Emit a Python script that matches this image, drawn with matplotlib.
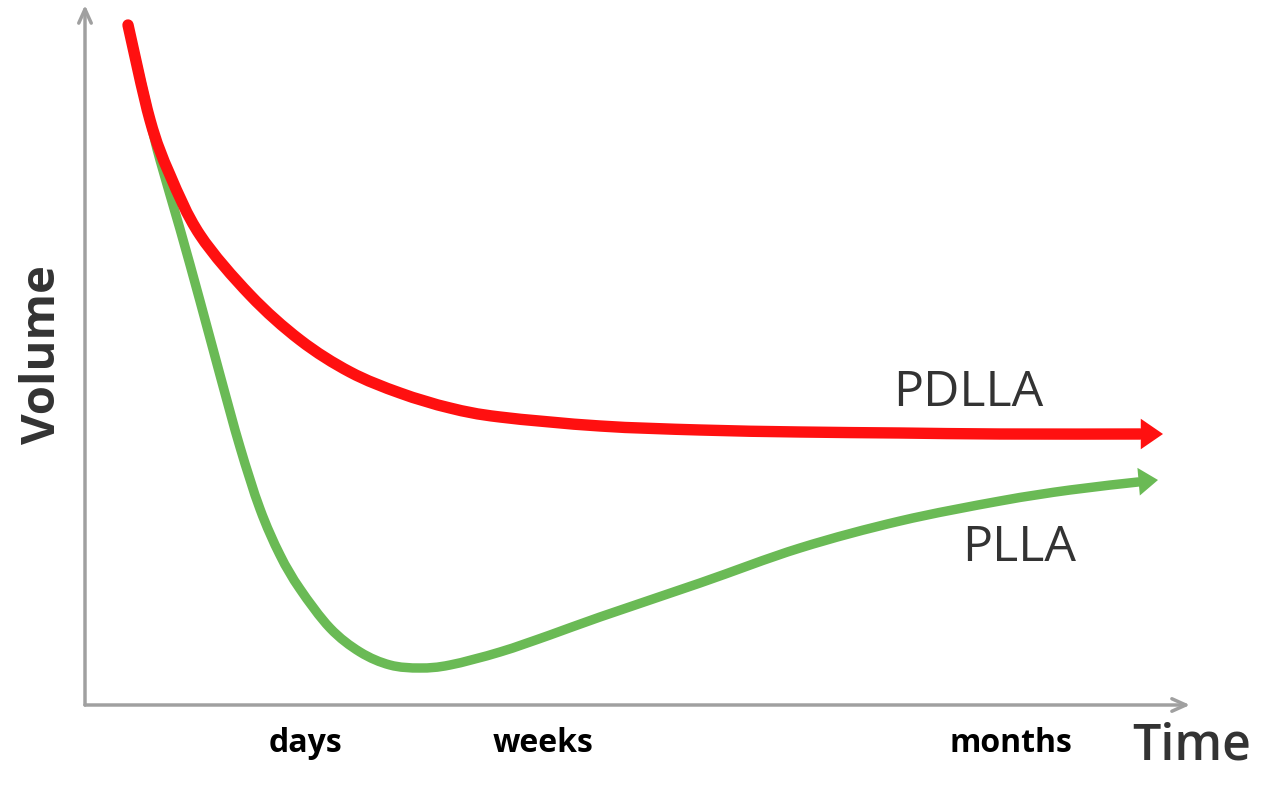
import matplotlib.pyplot as plt
import numpy as np
from matplotlib.path import Path
from matplotlib.patches import PathPatch, FancyArrowPatch

# curve values (time units, volume units)
pdlla_t = [4.3, 6.5, 8.5, 11.5, 16.5, 21.5, 26.5, 31.5, 36.5, 41.5, 51.5,
           61.5, 71.5, 81.5, 91.5, 105.5]
pdlla_v = [68.0, 58.5, 53.0, 47.0, 41.0, 36.5, 33.3, 31.2, 29.7, 28.8, 27.9,
           27.5, 27.3, 27.2, 27.1, 27.1]
pdlla_tip = (107.8, 27.1)

plla_t = [4.3, 6.5, 7.5, 9.5, 11.5, 13.5, 15.5, 17.5, 19.5, 21.5, 24.5, 27.5,
          30.5, 33.5, 36.5, 41.5, 46.5, 51.5, 61.5, 71.5, 81.5, 91.5, 98.5, 105.3]
plla_v = [68.0, 58.5, 54.5, 47.6, 40.4, 33.0, 25.8, 19.6, 15.0, 11.6, 7.7, 5.3,
          4.0, 3.7, 4.0, 5.3, 7.0, 8.8, 12.2, 15.7, 18.4, 20.4, 21.5, 22.3]
plla_tip = (107.3, 22.5)

tick_pos = [22.0, 45.8, 92.6]
tick_labels = ['days', 'weeks', 'months']

RED = '#ff1010'
GREEN = '#6aba55'
GREY = '#a0a0a0'
DARK = '#333333'


def smooth_path(xs, ys):
    # catmull-rom through the read points, drawn as cubic bezier segments
    p = np.column_stack([xs, ys])
    verts = [p[0]]
    codes = [Path.MOVETO]
    n = len(p)
    for i in range(n - 1):
        p0 = p[i - 1] if i > 0 else p[i]
        p3 = p[i + 2] if i + 2 < n else p[i + 1]
        c1 = p[i] + (p[i + 1] - p0) / 6
        c2 = p[i + 1] - (p3 - p[i]) / 6
        verts += [c1, c2, p[i + 1]]
        codes += [Path.CURVE4] * 3
    return Path(verts, codes)


fig = plt.figure(figsize=(12.8, 7.86), dpi=100)
ax = fig.add_axes([85 / 1280, 81 / 786, 1105 / 1280, 700 / 786])
ax.set_xlim(0, 110.5)
ax.set_ylim(0, 70)
for s in ax.spines.values():
    s.set_visible(False)

# axes with open arrow heads
ax.annotate('', xy=(1, 0), xytext=(0, 0), xycoords='axes fraction',
            arrowprops=dict(arrowstyle='->,head_length=1.0,head_width=0.45',
                            color=GREY, lw=2.5, shrinkA=0, shrinkB=0))
ax.annotate('', xy=(0, 1), xytext=(0, 0), xycoords='axes fraction',
            arrowprops=dict(arrowstyle='->,head_length=1.0,head_width=0.45',
                            color=GREY, lw=2.5, shrinkA=0, shrinkB=0))

curves = [(plla_t, plla_v, plla_tip, GREEN, 6.8, 14, 10),
          (pdlla_t, pdlla_v, pdlla_tip, RED, 8.2, 16, 11)]
for t, v, tip, col, lw, hl, hw in curves:
    ax.add_patch(PathPatch(smooth_path(t, v), fill=False, edgecolor=col, lw=lw,
                           capstyle='round', joinstyle='round'))
    ax.add_patch(FancyArrowPatch((t[-1] - 0.3, v[-1]), tip,
                                 arrowstyle=f'-|>,head_length={hl},head_width={hw}',
                                 mutation_scale=1, color=col, lw=0,
                                 shrinkA=0, shrinkB=0))

ax.text(88.3, 31.2, 'PDLLA', fontsize=36, family='Open Sans', color=DARK,
        ha='center', va='center')
ax.text(93.4, 15.7, 'PLLA', fontsize=36, family='Open Sans', color=DARK,
        ha='center', va='center')

ax.set_xticks(tick_pos)
ax.set_xticklabels(tick_labels, fontsize=23, family='Open Sans', fontweight='bold')
ax.tick_params(axis='x', length=0, pad=16)
ax.set_yticks([])

ax.set_ylabel('Volume', fontsize=34, family='Open Sans', fontweight='bold',
              color=DARK, labelpad=14)
ax.text(110.7, -4.1, 'Time', fontsize=36, family='Open Sans', fontweight='semibold',
        color=DARK, ha='center', va='center', clip_on=False)

fig.savefig('out.png', dpi=100)
